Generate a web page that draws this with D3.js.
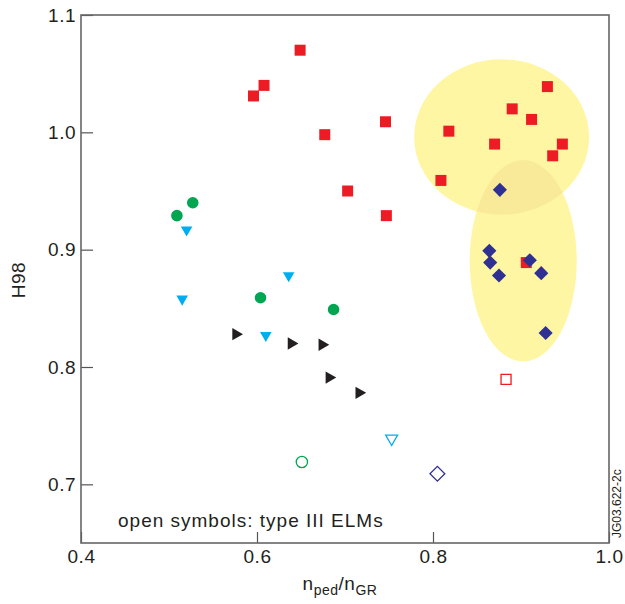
<!DOCTYPE html>
<html>
<head>
<meta charset="utf-8">
<script src="https://cdn.jsdelivr.net/npm/d3@7"></script>
<style>
  body { margin: 0; background: #fff; }
  text { font-family: "Liberation Sans", Arial, sans-serif; fill: #231f20; }
</style>
</head>
<body>
<div class="chart"></div>
<script>
// filled symbols, [n_ped/n_GR, H98]
var redSquares = [[0.596,1.031],[0.608,1.040],[0.649,1.070],[0.677,0.998],[0.746,1.009],
    [0.703,0.950],[0.747,0.929],[0.809,0.959],[0.818,1.001],[0.870,0.990],[0.890,1.020],
    [0.912,1.011],[0.930,1.039],[0.936,0.980],[0.947,0.990],[0.906,0.889]];
var navyDiamonds = [[0.876,0.951],[0.864,0.899],[0.865,0.889],[0.875,0.878],[0.910,0.891],
    [0.923,0.880],[0.928,0.829]];
var greenCircles = [[0.509,0.929],[0.527,0.940],[0.604,0.859],[0.687,0.849]];
var cyanTriangles = [[0.520,0.917],[0.636,0.878],[0.515,0.858],[0.610,0.827]];
var blackTriangles = [[0.576,0.828],[0.639,0.820],[0.674,0.819],[0.682,0.791],[0.716,0.778]];

// open symbols (type III ELMs)
var openCircle = [[0.651,0.719]];
var openTriangle = [[0.753,0.739]];
var openDiamond = [[0.805,0.709]];
var openSquare = [[0.883,0.7895]];

// shaded regions: [cx, cy, rx, ry] in data units
var ellipseTop = [0.878, 0.996, 0.0994, 0.0662];
var ellipseBottom = [0.9025, 0.8906, 0.0608, 0.0858];

var xTicks = [0.4, 0.6, 0.8, 1.0];
var yTicks = [0.7, 0.8, 0.9, 1.0, 1.1];

var width = 625, height = 604;
var margin = {top: 15, right: 16, bottom: 61, left: 81};

var x = d3.scaleLinear().domain([0.4, 1.0]).range([margin.left, width - margin.right]);
var y = d3.scaleLinear().domain([0.65, 1.1]).range([height - margin.bottom, margin.top]);

var svg = d3.select(".chart").append("svg")
    .attr("width", width)
    .attr("height", height);

// yellow regions
var defs = svg.append("defs");
defs.append("clipPath").attr("id", "clipTop")
    .append("ellipse")
    .attr("cx", x(ellipseTop[0])).attr("cy", y(ellipseTop[1]))
    .attr("rx", x(ellipseTop[0] + ellipseTop[2]) - x(ellipseTop[0]))
    .attr("ry", y(ellipseTop[1] - ellipseTop[3]) - y(ellipseTop[1]));

function ell(g, e, fill) {
    return g.append("ellipse")
        .attr("cx", x(e[0])).attr("cy", y(e[1]))
        .attr("rx", x(e[0] + e[2]) - x(e[0]))
        .attr("ry", y(e[1] - e[3]) - y(e[1]))
        .style("fill", fill);
}
ell(svg, ellipseTop, "#fef6a2");
ell(svg, ellipseBottom, "#fef6a2");
ell(svg, ellipseBottom, "#f8ea99").attr("clip-path", "url(#clipTop)");

// axes
var xAxis = d3.axisBottom(x).tickValues(xTicks).tickFormat(d3.format(".1f"))
    .tickSizeInner(-11).tickSizeOuter(0).tickPadding(7);
var yAxis = d3.axisLeft(y).tickValues(yTicks).tickFormat(d3.format(".1f"))
    .tickSizeInner(-12).tickSizeOuter(0).tickPadding(5);

var gx = svg.append("g")
    .attr("transform", "translate(0," + (height - margin.bottom) + ")")
    .call(xAxis);
var gy = svg.append("g")
    .attr("transform", "translate(" + margin.left + ",0)")
    .call(yAxis);
[gx, gy].forEach(function(g) {
    g.select(".domain").remove();
    g.selectAll("line").style("stroke", "#555").style("stroke-width", 1.2);
    g.selectAll("text").style("font-size", "19px").style("letter-spacing", "0.5px")
        .style("font-family", "Liberation Sans, Arial, sans-serif").style("fill", "#231f20");
});

svg.append("rect")
    .attr("x", x(0.4)).attr("y", y(1.1))
    .attr("width", x(1.0) - x(0.4)).attr("height", y(0.65) - y(1.1))
    .style("fill", "none").style("stroke", "#666").style("stroke-width", 1.6);

// markers
function plot(data, type, size, rot, fill, stroke) {
    svg.append("g").selectAll("path")
        .data(data)
        .enter().append("path")
        .attr("d", d3.symbol().type(type).size(size))
        .attr("transform", function(d) {
            return "translate(" + x(d[0]) + "," + y(d[1]) + ") rotate(" + rot + ")";
        })
        .style("fill", fill)
        .style("stroke", stroke || "none")
        .style("stroke-width", 1.3);
}
plot(redSquares, d3.symbolSquare, 121, 0, "#ed1c24");
plot(navyDiamonds, d3.symbolSquare, 100, 45, "#2e3192");
plot(greenCircles, d3.symbolCircle, 105, 0, "#00a651");
plot(cyanTriangles, d3.symbolTriangle, 58, 180, "#00aeef");
plot(blackTriangles, d3.symbolTriangle, 66, 90, "#231f20");

plot(openCircle, d3.symbolCircle, 100, 0, "none", "#00a651");
plot(openTriangle, d3.symbolTriangle, 62, 180, "none", "#00aeef");
plot(openDiamond, d3.symbolSquare, 110, 45, "none", "#2e3192");
plot(openSquare, d3.symbolSquare, 100, 0, "none", "#ed1c24");

// labels
svg.append("text")
    .attr("x", 118).attr("y", 527)
    .style("font-size", "19px")
    .style("letter-spacing", "1px")
    .text("open symbols: type III ELMs");

svg.append("text")
    .attr("transform", "translate(25,280) rotate(-90)")
    .style("text-anchor", "middle")
    .style("font-size", "19px")
    .style("letter-spacing", "0.5px")
    .text("H98");

var xl = svg.append("text")
    .attr("x", 340).attr("y", 590)
    .style("text-anchor", "middle")
    .style("font-size", "19px")
    .style("letter-spacing", "0.5px");
xl.append("tspan").text("n");
xl.append("tspan").attr("dy", 5).style("font-size", "14px").text("ped");
xl.append("tspan").attr("dy", -5).text("/n");
xl.append("tspan").attr("dy", 5).style("font-size", "14px").text("GR");

svg.append("text")
    .attr("transform", "translate(621,538) rotate(-90)")
    .style("font-size", "12px")
    .text("JG03.622-2c");
</script>
</body>
</html>
